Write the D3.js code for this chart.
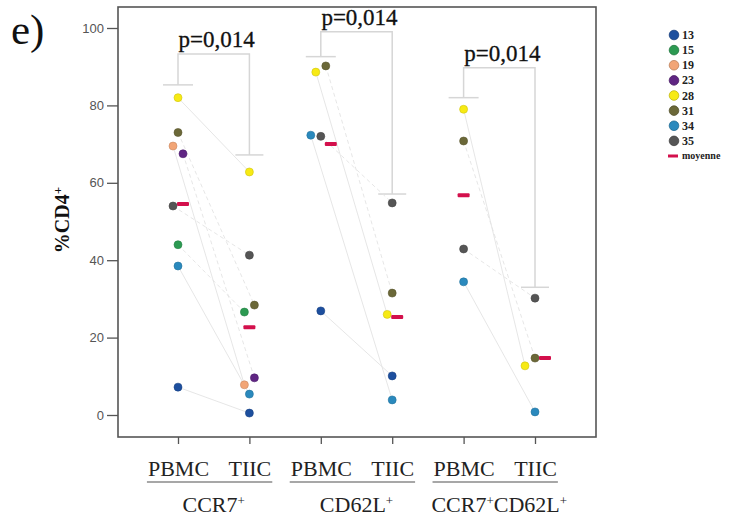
<!DOCTYPE html>
<html><head><meta charset="utf-8">
<script src="https://cdn.jsdelivr.net/npm/d3@7"></script>
<style>
html,body{margin:0;padding:0;background:#fff;}
svg{display:block;}
</style>
</head><body>
<svg id="chart" width="730" height="519"></svg>
<script>
// ---------------- DATA ----------------
const donors = ["13","15","19","23","28","31","34","35"];
const donorColors = ["#1d4f9e","#2c9a52","#f2a576","#5f2583","#f7ea14","#6b6838","#2a89bd","#555555"];
const meanLabel = "moyenne";
const meanColor = "#d3104c";

const groups = ["CCR7+", "CD62L+", "CCR7+CD62L+"];
const conditions = ["PBMC", "TIIC"];

const ccr7Pbmc  = [7.2, 44.0, 69.5, 67.5, 82.0, 73.0, 38.5, 54.0];
const ccr7Tiic  = [0.5, 26.6, 7.8, 9.6, 62.8, 28.4, 5.4, 41.3];
const cd62lPbmc = [26.9, null, null, null, 88.6, 90.2, 72.3, 72.0];
const cd62lTiic = [10.1, null, null, null, 26.0, 31.5, 3.9, 54.8];
const dpPbmc    = [null, null, null, null, 79.0, 70.8, 34.4, 42.9];
const dpTiic    = [null, null, null, null, 12.7, 14.7, 0.8, 30.2];

const meanPbmc = [54.5, 70.0, 56.8];
const meanTiic = [22.7, 25.3, 14.7];

const pLabels      = ["p=0,014", "p=0,014", "p=0,014"];
const bracketTop   = [93.3, 99.0, 89.7];
const bracketPbmc  = [85.3, 92.6, 82.0];
const bracketTiic  = [67.2, 57.1, 33.0];

const yTicks = [0, 20, 40, 60, 80, 100];

// ---------------- BUILD ----------------
const pbmcSeries = [ccr7Pbmc, cd62lPbmc, dpPbmc];
const tiicSeries = [ccr7Tiic, cd62lTiic, dpTiic];

const svg = d3.select("#chart");
const frame = {left: 118, right: 596, top: 7, bottom: 437};

const columns = [];
groups.forEach((g, gi) => conditions.forEach(c => columns.push(g + "|" + c)));

const x = d3.scalePoint().domain(columns).range([178, 535]);
const y = d3.scaleLinear().domain([0, 100]).range([415, 28]);

const serif = "'Liberation Serif','DejaVu Serif',serif";
const sans = "'Liberation Sans',Arial,sans-serif";

// panel label
svg.append("text").attr("x", 11).attr("y", 44)
  .attr("font-family", serif).attr("font-size", 43).attr("fill", "#111")
  .text("e)");

// frame
svg.append("rect")
  .attr("x", frame.left).attr("y", frame.top)
  .attr("width", frame.right - frame.left).attr("height", frame.bottom - frame.top)
  .attr("fill", "none").attr("stroke", "#555").attr("stroke-width", 1.6);

// y axis
const yAxis = d3.axisLeft(y).tickValues(yTicks).tickSize(11).tickPadding(3).tickFormat(d3.format("d"));
const gy = svg.append("g").attr("transform", `translate(${frame.left},0)`).call(yAxis);
gy.select(".domain").remove();
gy.selectAll(".tick line").attr("stroke", "#555").attr("stroke-width", 1.3);
gy.selectAll(".tick text").attr("font-family", sans).attr("font-size", 13).attr("fill", "#555");

// y label
svg.append("text")
  .attr("transform", "translate(69,220) rotate(-90)")
  .attr("text-anchor", "middle")
  .attr("font-family", serif).attr("font-weight", "bold").attr("font-size", 20).attr("fill", "#111")
  .call(t => {
    t.append("tspan").text("%CD4");
    t.append("tspan").attr("baseline-shift", "super").attr("font-size", 13).text("+");
  });

// x axis
const xAxis = d3.axisBottom(x).tickSize(7).tickFormat(d => d.split("|")[1]).tickPadding(16);
const gx = svg.append("g").attr("transform", `translate(0,${frame.bottom})`).call(xAxis);
gx.select(".domain").remove();
gx.selectAll(".tick line").attr("stroke", "#555").attr("stroke-width", 1.3);
gx.selectAll(".tick text").attr("font-family", serif).attr("font-size", 22).attr("fill", "#222").attr("dy", "0.71em");

// underline and group labels
groups.forEach((g, gi) => {
  const cPb = g + "|PBMC", cTi = g + "|TIIC";
  const texts = gx.selectAll(".tick").filter(d => d === cPb || d === cTi).select("text").nodes();
  const boxes = texts.map(n => {
    const b = n.getBBox();
    const tr = n.parentNode.getAttribute("transform");
    const tx = +tr.match(/translate\(([-\d.]+)/)[1];
    return {x0: tx + b.x, x1: tx + b.x + b.width};
  });
  const x0 = d3.min(boxes, b => b.x0) - 1;
  const x1 = d3.max(boxes, b => b.x1) + 1;
  svg.append("line").attr("x1", x0).attr("x2", x1).attr("y1", 482).attr("y2", 482)
    .attr("stroke", "#8a8a8a").attr("stroke-width", 1.5);

  const cx = (x(cPb) + x(cTi)) / 2;
  const parts = g.split("+").filter(s => s.length);
  const t = svg.append("text").attr("x", cx).attr("y", 512).attr("text-anchor", "middle")
    .attr("font-family", serif).attr("font-size", 22).attr("fill", "#222");
  parts.forEach(p => {
    t.append("tspan").text(p);
    t.append("tspan").attr("baseline-shift", "super").attr("font-size", 13).text("+");
  });
});

// brackets + p labels
const bracketColor = "#d6d6d6";
groups.forEach((g, gi) => {
  const xa = x(g + "|PBMC"), xb = x(g + "|TIIC");
  const yt = y(bracketTop[gi]), ya = y(bracketPbmc[gi]), yb = y(bracketTiic[gi]);
  const bg = svg.append("g").attr("stroke", bracketColor).attr("stroke-width", 1.5).attr("fill", "none");
  bg.append("path").attr("d", `M${xa},${ya}V${yt}H${xb}V${yb}`);
  bg.append("line").attr("x1", xa - 15).attr("x2", xa + 15).attr("y1", ya).attr("y2", ya);
  bg.append("line").attr("x1", xb - 14).attr("x2", xb + 14).attr("y1", yb).attr("y2", yb);
  svg.append("text").attr("x", (xa + xb) / 2 + 3).attr("y", yt - 7).attr("text-anchor", "middle")
    .attr("font-family", serif).attr("font-size", 23).attr("fill", "#111")
    .attr("stroke", "#111").attr("stroke-width", 0.3).text(pLabels[gi]);
});

// compute dodged positions
function dodge(items) {
  items.forEach(d => d.py = y(d.v));
  const sorted = items.slice().sort((a, b) => a.py - b.py);
  const clusters = [];
  sorted.forEach(d => {
    const last = clusters[clusters.length - 1];
    if (last && d.py - last[last.length - 1].py < 9) last.push(d);
    else clusters.push([d]);
  });
  clusters.forEach(cl => {
    cl.sort((a, b) => a.order - b.order);
    const n = cl.length;
    cl.forEach((d, i) => d.dx = (i - (n - 1) / 2) * 10);
  });
  return items;
}

const layout = {};
groups.forEach((g, gi) => {
  [["PBMC", pbmcSeries[gi], meanPbmc[gi]], ["TIIC", tiicSeries[gi], meanTiic[gi]]].forEach(([c, vals, m]) => {
    const items = [];
    vals.forEach((v, di) => { if (v !== null) items.push({v, order: di, donor: di}); });
    items.push({v: m, order: 99, isMean: true});
    dodge(items);
    const cx = x(g + "|" + c);
    items.forEach(d => d.px = cx + d.dx);
    layout[gi + "|" + c] = items;
  });
});

// connecting lines (very faint)
const lg = svg.append("g").attr("stroke", "#e3e3e3").attr("stroke-width", 0.9).attr("fill", "none");
groups.forEach((g, gi) => {
  const A = layout[gi + "|PBMC"], B = layout[gi + "|TIIC"];
  donors.forEach((dn, di) => {
    const a = A.find(d => d.donor === di && !d.isMean);
    const b = B.find(d => d.donor === di && !d.isMean);
    if (a && b) lg.append("line").attr("x1", a.px).attr("y1", a.py).attr("x2", b.px).attr("y2", b.py)
      .attr("stroke-dasharray", di % 2 ? "4,3" : null);
  });
});

// points and means
const pg = svg.append("g");
Object.values(layout).forEach(items => {
  items.forEach(d => {
    if (d.isMean) {
      pg.append("rect").attr("x", d.px - 6).attr("y", d.py - 2).attr("width", 12).attr("height", 4)
        .attr("rx", 1).attr("fill", meanColor);
    } else {
      const col = donorColors[d.donor];
      pg.append("circle").attr("cx", d.px).attr("cy", d.py).attr("r", 4)
        .attr("fill", col).attr("stroke", d3.color(col).darker(0.5)).attr("stroke-width", 0.6);
    }
  });
});

// legend
const leg = svg.append("g");
const ly = d3.scalePoint().domain(d3.range(donors.length + 1)).range([35, 156]);
donors.forEach((dn, i) => {
  const col = donorColors[i];
  leg.append("circle").attr("cx", 674).attr("cy", ly(i)).attr("r", 4.8)
    .attr("fill", col).attr("stroke", d3.color(col).darker(0.7)).attr("stroke-width", 0.8);
  leg.append("text").attr("x", 682).attr("y", ly(i) + 4)
    .attr("font-family", serif).attr("font-weight", "bold").attr("font-size", 12).attr("fill", "#222").text(dn);
});
const mi = donors.length;
leg.append("rect").attr("x", 668).attr("y", ly(mi) - 1.5).attr("width", 10).attr("height", 3).attr("fill", meanColor);
leg.append("text").attr("x", 682).attr("y", ly(mi) + 3)
  .attr("font-family", serif).attr("font-weight", "bold").attr("font-size", 10).attr("fill", "#222").text(meanLabel);
</script>
</body></html>
